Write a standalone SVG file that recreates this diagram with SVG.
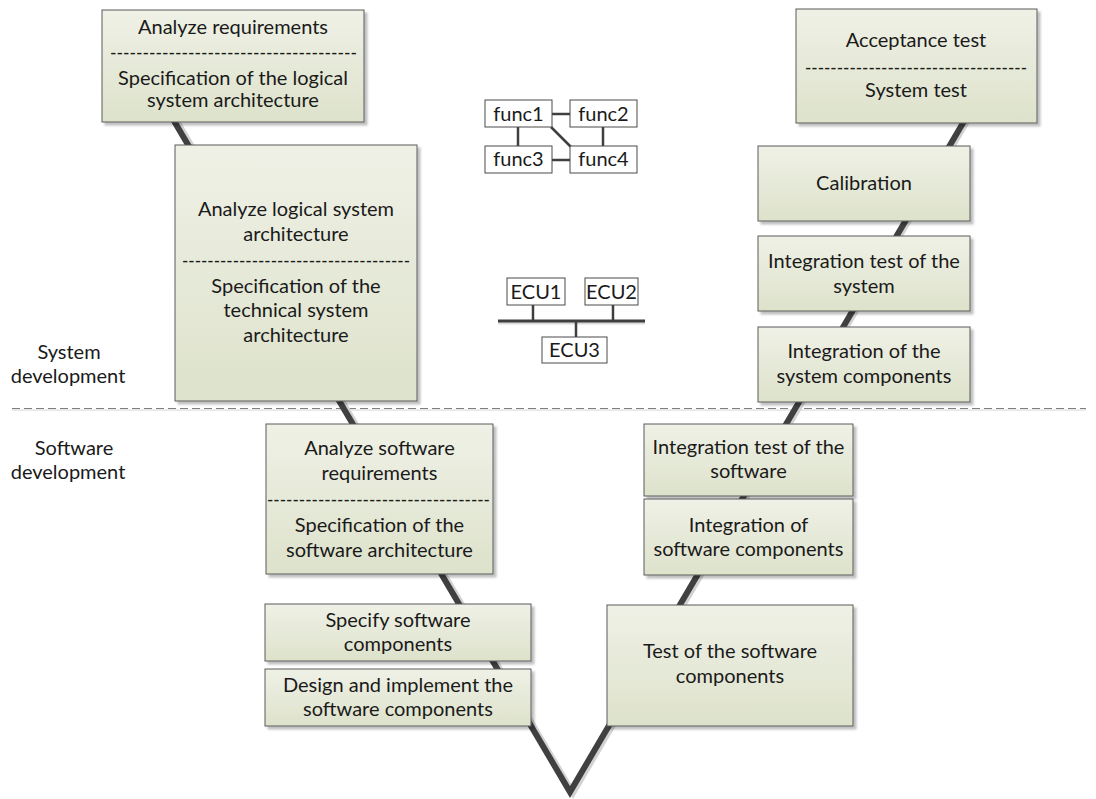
<svg xmlns="http://www.w3.org/2000/svg" width="1096" height="799" viewBox="0 0 1096 799">
  <defs>
    <linearGradient id="boxFill" x1="0" y1="0" x2="0" y2="1">
      <stop offset="0" stop-color="#eff1e6"/>
      <stop offset="1" stop-color="#dde2cb"/>
    </linearGradient>
    <filter id="shadow" x="-10%" y="-10%" width="130%" height="130%">
      <feDropShadow dx="3" dy="3" stdDeviation="1.2" flood-color="#000" flood-opacity="0.25"/>
    </filter>
    <style>
      .box { fill: url(#boxFill); stroke: #5a5a5a; stroke-width: 1; filter: url(#shadow); }
      .t { font-family: Lato, "Liberation Sans", sans-serif; font-size: 20px; fill: #1a1a1a; text-anchor: middle; }
      .dash { font-family: Lato, "Liberation Sans", sans-serif; font-size: 20px; fill: #1a1a1a; }
      .small { fill: #ffffff; stroke: #4a4a4a; stroke-width: 1; }
      .link { stroke: #3f3f3f; stroke-width: 2.5; fill: none; }
      .vline { stroke: #404040; stroke-width: 6; fill: none; stroke-linejoin: miter; }
      .vshadow { stroke: #d2d2d2; stroke-width: 6; fill: none; }
      .sep { stroke: #7f7f7f; stroke-width: 1; stroke-dasharray: 8 4; }
    </style>
  </defs>

  <rect width="1096" height="799" fill="#ffffff"/>

  <!-- phase separator -->
  <line x1="12" y1="410" x2="1086" y2="410" stroke="#e2e2e2" stroke-width="1.5"/>
  <line class="sep" x1="12" y1="408.5" x2="1086" y2="408.5"/>

  <!-- connectors -->
  <g id="connectors">
    <polyline class="vshadow" points="141,60 573,793 1003,60"/>
    <polyline class="vline" points="138,60 570,792 1000,60"/>
    <!-- function network -->
    <line class="link" x1="552" y1="114" x2="570" y2="114"/>
    <line class="link" x1="518" y1="127" x2="518" y2="146"/>
    <line class="link" x1="603" y1="127" x2="603" y2="146"/>
    <line class="link" x1="552" y1="160" x2="570" y2="160"/>
    <line class="link" x1="551" y1="127" x2="571" y2="147"/>
    <!-- ECU bus -->
    <line x1="498" y1="323" x2="645" y2="323" stroke="#dcdcdc" stroke-width="3"/>
    <line x1="498" y1="321" x2="645" y2="321" stroke="#3f3f3f" stroke-width="3"/>
    <line class="link" x1="533" y1="305" x2="533" y2="321"/>
    <line class="link" x1="613" y1="305" x2="613" y2="321"/>
    <line class="link" x1="576" y1="321" x2="576" y2="337"/>
  </g>

  <!-- side labels -->
  <g id="label-system">
    <text class="t" x="69" y="359">System</text>
    <text class="t" x="68" y="383">development</text>
  </g>
  <g id="label-software">
    <text class="t" x="74" y="455">Software</text>
    <text class="t" x="68" y="479">development</text>
  </g>

  <!-- left branch -->
  <g id="analyze-requirements">
    <rect class="box" x="102" y="10" width="262" height="112"/>
    <text class="t" x="233" y="34">Analyze requirements</text>
    <text class="dash" x="110" y="59" textLength="247" lengthAdjust="spacingAndGlyphs">--------------------------------------</text>
    <text class="t" x="233" y="85">Specification of the logical</text>
    <text class="t" x="233" y="107">system architecture</text>
  </g>

  <g id="logical-architecture">
    <rect class="box" x="175" y="145" width="242" height="256"/>
    <text class="t" x="296" y="216">Analyze logical system</text>
    <text class="t" x="296" y="241">architecture</text>
    <text class="dash" x="182" y="267" textLength="228" lengthAdjust="spacingAndGlyphs">------------------------------------</text>
    <text class="t" x="296" y="293">Specification of the</text>
    <text class="t" x="296" y="317">technical system</text>
    <text class="t" x="296" y="342">architecture</text>
  </g>

  <g id="software-requirements">
    <rect class="box" x="266" y="424" width="227" height="150"/>
    <text class="t" x="379.5" y="455">Analyze software</text>
    <text class="t" x="379.5" y="480">requirements</text>
    <text class="dash" x="267" y="506" textLength="223" lengthAdjust="spacingAndGlyphs">-----------------------------------</text>
    <text class="t" x="379.5" y="532">Specification of the</text>
    <text class="t" x="379.5" y="557">software architecture</text>
  </g>

  <g id="specify-components">
    <rect class="box" x="265" y="604" width="266" height="57"/>
    <text class="t" x="398" y="627">Specify software</text>
    <text class="t" x="398" y="651">components</text>
  </g>

  <g id="implement-components">
    <rect class="box" x="265" y="669" width="266" height="57"/>
    <text class="t" x="398" y="692">Design and implement the</text>
    <text class="t" x="398" y="716">software components</text>
  </g>

  <!-- right branch -->
  <g id="acceptance-test">
    <rect class="box" x="796" y="9" width="241" height="114"/>
    <text class="t" x="916" y="47">Acceptance test</text>
    <text class="dash" x="805" y="74" textLength="222" lengthAdjust="spacingAndGlyphs">-----------------------------------</text>
    <text class="t" x="916" y="97">System test</text>
  </g>

  <g id="calibration">
    <rect class="box" x="758" y="146" width="212" height="75"/>
    <text class="t" x="864" y="190">Calibration</text>
  </g>

  <g id="system-integration-test">
    <rect class="box" x="758" y="236" width="212" height="75"/>
    <text class="t" x="864" y="268">Integration test of the</text>
    <text class="t" x="864" y="293">system</text>
  </g>

  <g id="system-integration">
    <rect class="box" x="758" y="327" width="212" height="75"/>
    <text class="t" x="864" y="358">Integration of the</text>
    <text class="t" x="864" y="383">system components</text>
  </g>

  <g id="software-integration-test">
    <rect class="box" x="644" y="424" width="209" height="72"/>
    <text class="t" x="748.5" y="454">Integration test of the</text>
    <text class="t" x="748.5" y="478">software</text>
  </g>

  <g id="software-integration">
    <rect class="box" x="644" y="499" width="209" height="76"/>
    <text class="t" x="748.5" y="532">Integration of</text>
    <text class="t" x="748.5" y="556">software components</text>
  </g>

  <g id="component-test">
    <rect class="box" x="607" y="605" width="246" height="121"/>
    <text class="t" x="730" y="658">Test of the software</text>
    <text class="t" x="730" y="683">components</text>
  </g>

  <!-- logical function network -->
  <g id="func1">
    <rect class="small" x="485" y="100" width="67" height="27"/>
    <text class="t" x="518.5" y="121">func1</text>
  </g>
  <g id="func2">
    <rect class="small" x="570" y="100" width="67" height="27"/>
    <text class="t" x="603.5" y="121">func2</text>
  </g>
  <g id="func3">
    <rect class="small" x="485" y="146" width="67" height="27"/>
    <text class="t" x="518.5" y="166">func3</text>
  </g>
  <g id="func4">
    <rect class="small" x="570" y="146" width="67" height="27"/>
    <text class="t" x="603.5" y="166">func4</text>
  </g>

  <!-- technical ECU network -->
  <g id="ecu1">
    <rect class="small" x="507" y="278" width="58" height="27"/>
    <text class="t" x="536" y="299">ECU1</text>
  </g>
  <g id="ecu2">
    <rect class="small" x="585" y="278" width="53" height="27"/>
    <text class="t" x="611.5" y="299">ECU2</text>
  </g>
  <g id="ecu3">
    <rect class="small" x="542" y="337" width="65" height="26"/>
    <text class="t" x="574.5" y="357">ECU3</text>
  </g>
</svg>
